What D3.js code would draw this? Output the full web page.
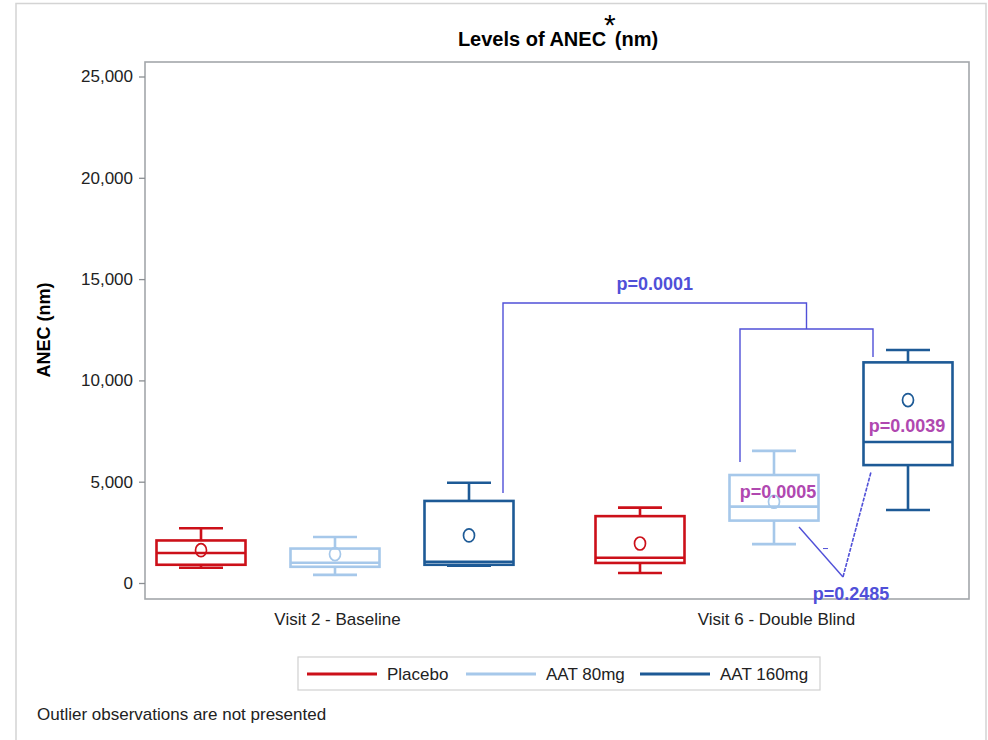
<!DOCTYPE html>
<html>
<head>
<meta charset="utf-8">
<script src="https://cdn.jsdelivr.net/npm/d3@7"></script>
<style>
  body { margin: 0; background: #fff; }
  svg { display: block; }
  text { font-family: "Liberation Sans", Arial, sans-serif; }
</style>
</head>
<body>
<svg id="chart" width="988" height="740"></svg>
<script>
// ---------- DATA ----------
const visits = ["Visit 2 - Baseline", "Visit 6 - Double Blind"];
const groups = ["Placebo", "AAT 80mg", "AAT 160mg"];
const yTicks = [0, 5000, 10000, 15000, 20000, 25000];

// per visit, per group (order: Placebo, AAT 80mg, AAT 160mg)
const whiskerLow  = [[750, 400, 860],    [490, 1920, 3600]];
const q1          = [[900, 800, 900],    [990, 3080, 5820]];
const median      = [[1480, 1000, 1050], [1250, 3770, 6960]];
const q3          = [[2100, 1700, 4050], [3300, 5330, 10890]];
const whiskerHigh = [[2700, 2270, 4950], [3720, 6520, 11500]];
const mean        = [[1620, 1430, 2350], [1950, 4010, 9030]];

const groupColors = ["#cc1019", "#a6c8ea", "#1d5a96"];

// annotations
const pValues = ["p=0.0001", "p=0.0005", "p=0.0039", "p=0.2485"];

// ---------- LAYOUT ----------
const svg = d3.select("#chart");
const frame = {left: 145, right: 969, top: 62, bottom: 599};

const y = d3.scaleLinear().domain([0, 25000]).range([583, 76.5]);
const xVisit = d3.scalePoint().domain(visits).range([337, 776]);
const xGroup = d3.scalePoint().domain(groups).range([-136, 132]);
const boxW = 89, capW = 44;
const cx = (vi, gi) => xVisit(visits[vi]) + xGroup(groups[gi]);

// outer page border
svg.append("path")
  .attr("d", "M16,740 V3.5 H986 V740")
  .attr("fill", "none").attr("stroke", "#d4d4d4").attr("stroke-width", 1.5);

// title
const title = svg.append("text")
  .attr("x", 558).attr("y", 46).attr("text-anchor", "middle")
  .attr("font-size", 20).attr("font-weight", "bold").attr("fill", "#000");
title.append("tspan").text("Levels of ANEC");
title.append("tspan").text("*").attr("font-size", 30).attr("dx", -2).attr("dy", -11)
  .attr("font-weight", "normal");
title.append("tspan").text("(nm)").attr("dx", -1).attr("dy", 11);

// plot frame
svg.append("rect")
  .attr("x", frame.left).attr("y", frame.top)
  .attr("width", frame.right - frame.left).attr("height", frame.bottom - frame.top)
  .attr("fill", "none").attr("stroke", "#a3a7ab").attr("stroke-width", 1.6);

// y axis
const yAxis = d3.axisLeft(y).tickValues(yTicks).tickSize(6).tickPadding(6)
  .tickFormat(d3.format(","));
const gy = svg.append("g").attr("transform", `translate(${frame.left},0)`).call(yAxis);
gy.select(".domain").remove();
gy.selectAll(".tick line").attr("stroke", "#8a8e92").attr("stroke-width", 1.3);
gy.selectAll(".tick text").attr("font-size", 17).attr("fill", "#222")
  .attr("font-family", "Liberation Sans, Arial, sans-serif");

svg.append("text")
  .attr("transform", "translate(50,330) rotate(-90)")
  .attr("text-anchor", "middle").attr("font-size", 18).attr("font-weight", "bold")
  .text("ANEC (nm)");

// x axis labels
const xAxis = d3.axisBottom(xVisit).tickSize(0).tickPadding(14);
const gx = svg.append("g").attr("transform", `translate(0,${frame.bottom})`).call(xAxis);
gx.select(".domain").remove();
gx.selectAll(".tick text").attr("font-size", 17).attr("fill", "#222")
  .attr("font-family", "Liberation Sans, Arial, sans-serif");

// ---------- BOXES ----------
const boxes = [];
visits.forEach((v, vi) => groups.forEach((g, gi) => boxes.push({vi, gi})));

const gb = svg.append("g");
boxes.forEach(({vi, gi}) => {
  const c = cx(vi, gi), col = groupColors[gi];
  const g = gb.append("g").attr("stroke", col).attr("fill", "none").attr("stroke-width", 2.6);
  g.append("line").attr("x1", c).attr("x2", c)
    .attr("y1", y(q3[vi][gi])).attr("y2", y(whiskerHigh[vi][gi]));
  g.append("line").attr("x1", c).attr("x2", c)
    .attr("y1", y(q1[vi][gi])).attr("y2", y(whiskerLow[vi][gi]));
  g.append("line").attr("x1", c - capW / 2).attr("x2", c + capW / 2)
    .attr("y1", y(whiskerHigh[vi][gi])).attr("y2", y(whiskerHigh[vi][gi]));
  g.append("line").attr("x1", c - capW / 2).attr("x2", c + capW / 2)
    .attr("y1", y(whiskerLow[vi][gi])).attr("y2", y(whiskerLow[vi][gi]));
  g.append("rect").attr("x", c - boxW / 2).attr("width", boxW)
    .attr("y", y(q3[vi][gi])).attr("height", y(q1[vi][gi]) - y(q3[vi][gi]))
    .attr("fill", "#fff");
  g.append("line").attr("x1", c - boxW / 2).attr("x2", c + boxW / 2)
    .attr("y1", y(median[vi][gi])).attr("y2", y(median[vi][gi]));
  g.append("ellipse").attr("cx", c).attr("cy", y(mean[vi][gi]))
    .attr("rx", 5.5).attr("ry", 6.5).attr("stroke-width", 1.7);
});

// ---------- ANNOTATIONS ----------
const annBlue = "#5050d8", annMag = "#b048b0";
const ga = svg.append("g").attr("fill", "none").attr("stroke", annBlue).attr("stroke-width", 1.4);
const px = (vi, gi, dx) => cx(vi, gi) + dx;

ga.append("path").attr("d", d3.line()([
  [px(1, 1, -34), y(5970)], [px(1, 1, -34), y(12540)],
  [px(1, 2, -35), y(12540)], [px(1, 2, -35), y(11150)]
]));
const midX = (px(1, 1, -34) + px(1, 2, -35)) / 2;
ga.append("path").attr("d", d3.line()([
  [px(0, 2, 34), y(4440)], [px(0, 2, 34), y(13820)],
  [midX, y(13820)], [midX, y(12540)]
]));
ga.append("line")
  .attr("x1", px(1, 1, 25)).attr("y1", y(2760))
  .attr("x2", px(1, 1, 69)).attr("y2", y(300));
ga.append("line")
  .attr("x1", px(1, 1, 49)).attr("y1", y(1700))
  .attr("x2", px(1, 1, 54)).attr("y2", y(1700)).attr("stroke-width", 1);
ga.append("line")
  .attr("x1", px(1, 1, 69)).attr("y1", y(300))
  .attr("x2", px(1, 2, -37)).attr("y2", y(5480))
  .attr("stroke-width", 1.6).attr("stroke-dasharray", "4,1.2");

const pText = (t, xPos, val, col) => svg.append("text")
  .attr("x", xPos).attr("y", y(val)).attr("text-anchor", "middle")
  .attr("font-size", 18).attr("font-weight", "bold").attr("fill", col).text(t);

pText(pValues[0], (px(0, 2, 34) + midX) / 2, 14450, annBlue);
pText(pValues[1], px(1, 1, 4), 4200, annMag);
pText(pValues[2], px(1, 2, -1), 7450, annMag);
pText(pValues[3], px(1, 1, 77), -840, annBlue);

// ---------- LEGEND ----------
const lg = svg.append("g");
lg.append("rect").attr("x", 298).attr("y", 657).attr("width", 522).attr("height", 33)
  .attr("fill", "#fff").attr("stroke", "#d0d0d0").attr("stroke-width", 1.2);
const legX = [307, 466, 640];
groups.forEach((g, i) => {
  lg.append("line").attr("x1", legX[i]).attr("x2", legX[i] + 70)
    .attr("y1", 674).attr("y2", 674)
    .attr("stroke", groupColors[i]).attr("stroke-width", 2.8);
  lg.append("text").attr("x", legX[i] + 80).attr("y", 680)
    .attr("font-size", 17).attr("fill", "#222").text(g);
});

svg.append("text").attr("x", 37).attr("y", 720)
  .attr("font-size", 17).attr("fill", "#222")
  .text("Outlier observations are not presented");
</script>
</body>
</html>
